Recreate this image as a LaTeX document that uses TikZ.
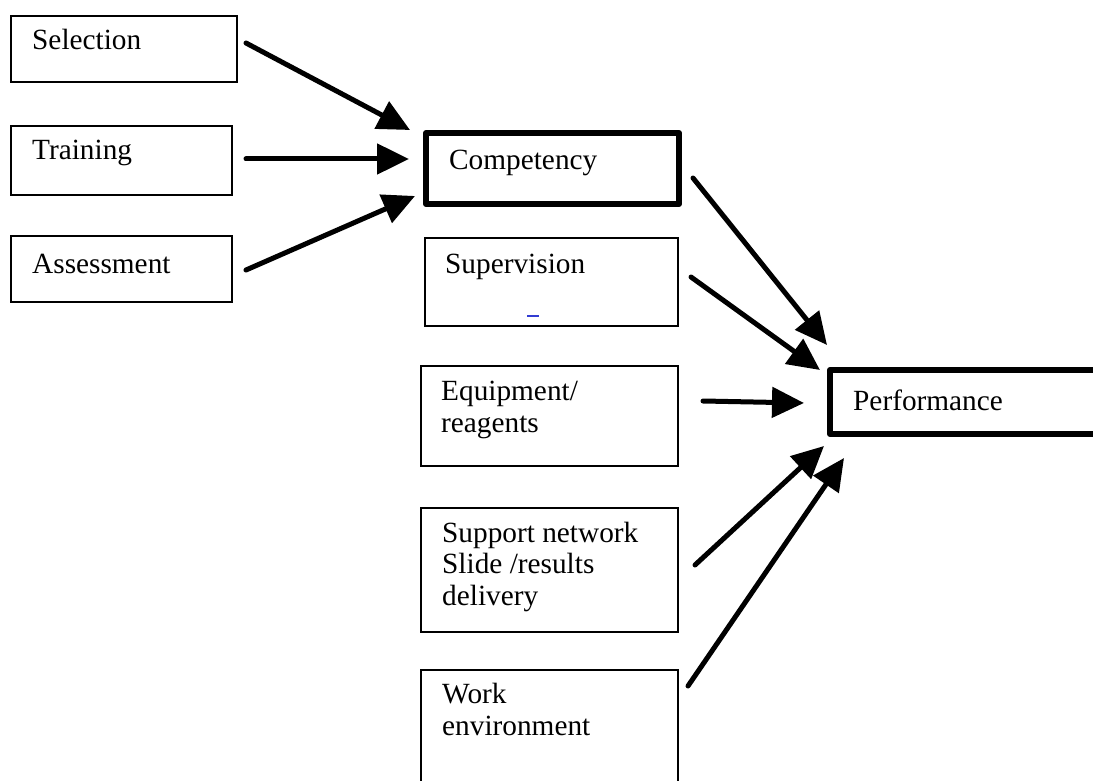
\documentclass[tikz,border=0pt]{standalone}
\usepackage{fontspec}
\setmainfont{Liberation Serif}
\usetikzlibrary{arrows.meta,calc}
\definecolor{markblue}{RGB}{50,60,210}

\begin{document}
\begin{tikzpicture}[x=1pt, y=-1pt,
		box/.style={draw, rectangle, line width=2pt, inner sep=0pt},
		boldbox/.style={draw, rectangle, line width=6pt, line join=round, inner sep=0pt},
		lbl/.style={inner sep=0pt, align=left, anchor=base west,
			font=\fontsize{29.3}{31.5}\selectfont},
		arr/.style={line width=5pt, line cap=round,
			-{Triangle[length=32pt, width=30pt]}}]
		\useasboundingbox (0,0) rectangle (1093,781);
		% left column
		\node[box, minimum width=226pt, minimum height=66pt] (sel) at (124,49) {};
		\node[box, minimum width=221pt, minimum height=69pt] (train) at (121.5,160.5) {};
		\node[box, minimum width=221pt, minimum height=66pt] (assess) at (121.5,269) {};
		\node[lbl] (seltxt) at (32,50) {Selection};
		\node[lbl] (traintxt) at (32,160) {Training};
		\node[lbl] (assesstxt) at (32,273) {Assessment};
		% middle column
		\node[boldbox, minimum width=253pt, minimum height=71pt] (comp) at (552.5,168.5) {};
		\node[box, minimum width=253pt, minimum height=88pt] (sup) at (551.5,282) {};
		\node[box, minimum width=257pt, minimum height=100pt] (equip) at (549.5,416) {};
		\node[box, minimum width=257pt, minimum height=124pt] (supp) at (549.5,570) {};
		\node[box, minimum width=257pt, minimum height=130pt] (work) at (549.5,735) {};
		\node[lbl] (comptxt) at (449,170) {Competency};
		\node[lbl] (suptxt) at (445,273) {Supervision};
		% base of a multi-line label is its last line
		\node[lbl] (equiptxt) at (441,432) {Equipment/\\reagents};
		\node[lbl] (supptxt) at (442,605) {Support network\\Slide /results\\delivery};
		\node[lbl] (worktxt) at (442,735) {Work\\environment};
		\draw[markblue, line width=1.5pt] (527,316) -- (539,316);
		% right
		\node[boldbox, minimum width=280pt, minimum height=64pt] (perf) at (970,402) {};
		\node[lbl] (perftxt) at (853,410) {Performance};
		% arrows
		\draw[arr] ($(sel.east)+(8,-6)$) -- ($(comp.north west)+(-13,0)$);
		\draw[arr] ($(train.east)+(13,-1.5)$) -- ($(comp.west)+(-14,-9.5)$);
		\draw[arr] ($(assess.east)+(13,1)$) -- ($(comp.south west)+(-8,-11)$);
		\draw[arr] ($(comp.east)+(11,9.5)$) -- ($(perf.north west)+(0,-22)$);
		\draw[arr] ($(sup.east)+(12,-5)$) -- ($(perf.north west)+(-7,3)$);
		\draw[arr] ($(equip.east)+(24,-15)$) -- ($(perf.west)+(-23,1)$);
		\draw[arr] ($(supp.east)+(16,-5)$) -- ($(perf.south west)+(-3,9)$);
		\draw[arr] ($(work.north east)+(9,17)$) -- ($(perf.south west)+(17,21)$);
\end{tikzpicture}
\end{document}
